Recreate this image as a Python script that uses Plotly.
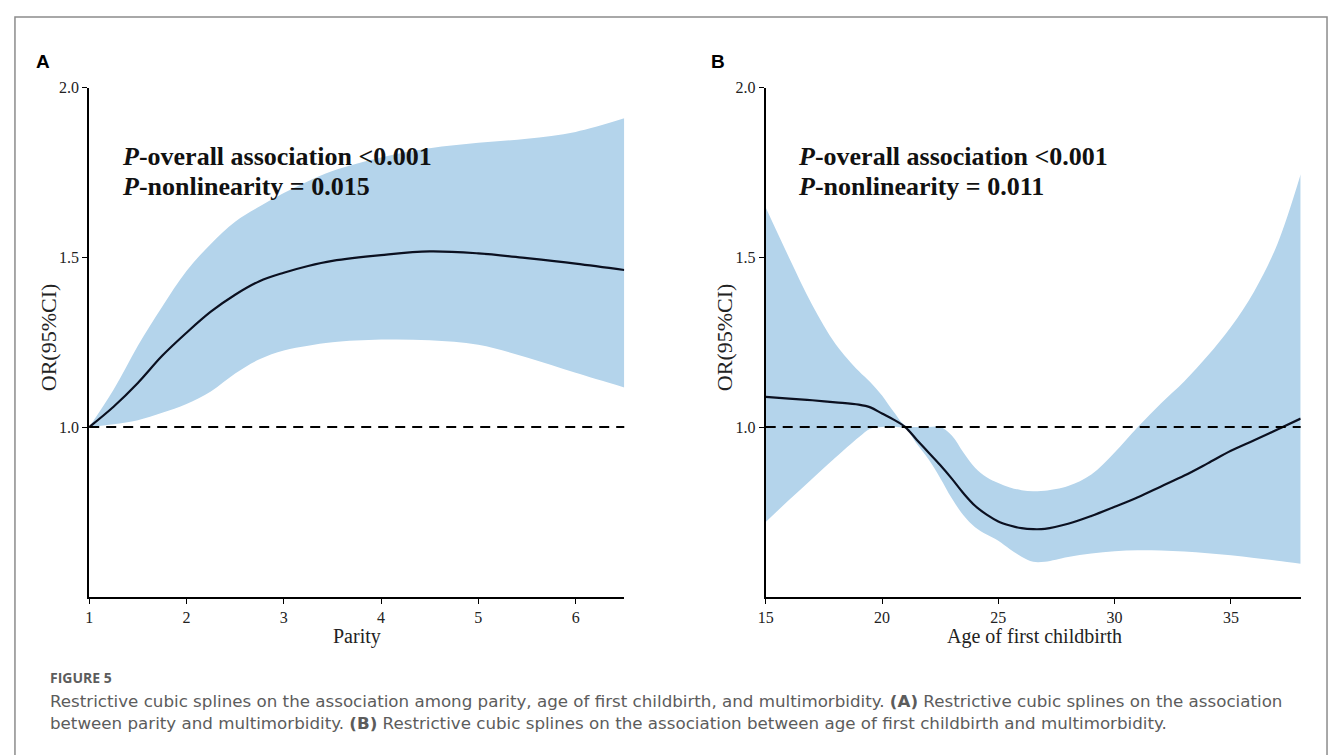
import plotly.graph_objects as go

W, H = 1330, 755

# ---------------- Data ----------------
parity = [1, 1.25, 1.5, 1.75, 2, 2.25, 2.5, 2.75, 3, 3.25, 3.5, 4, 4.5, 5, 5.5, 6, 6.5]
parity_or = [1.0, 1.06, 1.13, 1.21, 1.278, 1.34, 1.39, 1.43, 1.455, 1.475, 1.49, 1.507, 1.518, 1.512, 1.498, 1.482, 1.463]
parity_upper = [1.0, 1.11, 1.24, 1.355, 1.46, 1.54, 1.605, 1.65, 1.69, 1.725, 1.755, 1.795, 1.822, 1.838, 1.85, 1.87, 1.91]
parity_lower = [1.0, 1.008, 1.02, 1.042, 1.068, 1.105, 1.158, 1.2, 1.226, 1.24, 1.25, 1.258, 1.256, 1.243, 1.205, 1.16, 1.117]

age = [15, 16, 17, 18, 19, 19.5, 20, 20.5, 21, 21.5, 22, 22.5, 23, 23.5, 24, 24.5, 25, 25.5, 26, 26.5, 27,
       28, 29, 30, 31, 32, 33, 34, 35, 36, 37, 38]
age_or = [1.089, 1.084, 1.079, 1.073, 1.066, 1.058, 1.04, 1.022, 1.0, 0.962, 0.925, 0.888, 0.848, 0.805, 0.768,
          0.742, 0.722, 0.71, 0.702, 0.699, 0.70, 0.715, 0.738, 0.765, 0.793, 0.825, 0.857, 0.893, 0.93, 0.961,
          0.993, 1.025]
age_upper = [1.647, 1.5, 1.36, 1.245, 1.165, 1.132, 1.093, 1.045, 1.005, 1.0, 1.0, 1.0, 0.975, 0.925, 0.88,
             0.852, 0.835, 0.822, 0.814, 0.811, 0.812, 0.826, 0.86, 0.925, 1.0, 1.07, 1.135, 1.21, 1.295, 1.40,
             1.54, 1.745]
age_lower = [0.72, 0.785, 0.848, 0.91, 0.97, 0.995, 1.0, 1.0, 0.995, 0.95, 0.905, 0.85, 0.79, 0.74, 0.705,
             0.683, 0.665, 0.64, 0.618, 0.603, 0.603, 0.617, 0.627, 0.634, 0.637, 0.636, 0.633, 0.628, 0.622,
             0.614, 0.606, 0.597]

y_ticks = [1.0, 1.5, 2.0]
y_ticktext = ["1.0", "1.5", "2.0"]
parity_ticks = [1, 2, 3, 4, 5, 6]
age_ticks = [15, 20, 25, 30, 35]

# ---------------- Style ----------------
BAND = "#b4d4eb"
LINE = "#0b1020"
SERIF = "Liberation Serif"


def px_x(p):
    return p / W


def px_y(p):
    return 1 - p / H


fig = go.Figure()

for xs, up, lo, mid, xa, ya in [
    (parity, parity_upper, parity_lower, parity_or, "x", "y"),
    (age, age_upper, age_lower, age_or, "x2", "y2"),
]:
    fig.add_trace(go.Scatter(x=xs, y=up, mode="lines", line=dict(width=0, shape="spline", color=BAND),
                             xaxis=xa, yaxis=ya, showlegend=False, hoverinfo="skip"))
    fig.add_trace(go.Scatter(x=xs, y=lo, mode="lines", line=dict(width=0, shape="spline", color=BAND),
                             fill="tonexty", fillcolor=BAND, xaxis=xa, yaxis=ya, showlegend=False,
                             hoverinfo="skip"))
    fig.add_trace(go.Scatter(x=xs, y=mid, mode="lines", line=dict(width=2.2, shape="spline", color=LINE),
                             xaxis=xa, yaxis=ya, showlegend=False))

ydom = [px_y(595), px_y(80.7)]
xdomA = [px_x(81.7), px_x(620)]
xdomB = [px_x(762.3), px_x(1300.5)]

axis_common = dict(showgrid=False, zeroline=False, showline=True, linecolor="black", linewidth=2,
                   ticks="outside", ticklen=5, tickwidth=1.2, tickcolor="black",
                   tickfont=dict(family=SERIF, size=16, color="#222"))

fig.update_layout(
    width=W, height=H, margin=dict(l=0, r=0, t=0, b=0),
    paper_bgcolor="white", plot_bgcolor="white",
    xaxis=dict(domain=xdomA, range=[1, 6.5], tickvals=parity_ticks, anchor="y", **axis_common),
    yaxis=dict(domain=ydom, range=[0.5, 2.0], tickvals=y_ticks, ticktext=y_ticktext, anchor="x",
               **axis_common),
    xaxis2=dict(domain=xdomB, range=[15, 38], tickvals=age_ticks, anchor="y2", **axis_common),
    yaxis2=dict(domain=ydom, range=[0.5, 2.0], tickvals=y_ticks, ticktext=y_ticktext, anchor="x2",
                **axis_common),
)

# reference dashed lines at OR = 1
for xr, yr in [("x domain", "y"), ("x2 domain", "y2")]:
    fig.add_shape(type="line", xref=xr, yref=yr, x0=0, x1=1, y0=1.0, y1=1.0,
                  line=dict(color="black", width=2, dash="10px,7px"), layer="above")

# outer frame
fig.add_shape(type="rect", xref="paper", yref="paper", x0=px_x(7), x1=px_x(1327), y0=-0.05, y1=px_y(9),
              line=dict(color="#8c8c8c", width=1.5), fillcolor="rgba(0,0,0,0)", layer="below")

ann = []
# panel letters
ann.append(dict(text="<b>A</b>", x=px_x(35.5), y=px_y(54), font=dict(family="Liberation Sans", size=19,
                                                                     color="black")))
ann.append(dict(text="<b>B</b>", x=px_x(714.5), y=px_y(54), font=dict(family="Liberation Sans", size=19,
                                                                      color="black")))
# p-value texts
for x0, p2 in [(113, "0.015"), (793, "0.011")]:
    ann.append(dict(text="<b><i>P</i>-overall association &lt;0.001</b>", x=px_x(x0), y=px_y(150),
                    xanchor="left", font=dict(family=SERIF, size=26, color="#111")))
    ann.append(dict(text=f"<b><i>P</i>-nonlinearity = {p2}</b>", x=px_x(x0), y=px_y(180),
                    xanchor="left", font=dict(family=SERIF, size=26, color="#111")))
# axis titles
ann.append(dict(text="Parity", x=px_x(351), y=px_y(622), yanchor="top",
                font=dict(family=SERIF, size=20, color="#222")))
ann.append(dict(text="Age of first childbirth", x=px_x(1033), y=px_y(622), yanchor="top",
                font=dict(family=SERIF, size=20, color="#222")))
for xc in [41, 721]:
    ann.append(dict(text="OR(95%CI)", x=px_x(xc), y=px_y(333), textangle=-90,
                    font=dict(family=SERIF, size=22, color="#222")))
# caption
ann.append(dict(text="<b>FIGURE 5</b>", x=px_x(40), y=px_y(677), xanchor="left",
                font=dict(family="Open Sans", size=14, color="#5c5c5c")))
CAP = "DejaVu Sans"
ann.append(dict(text="Restrictive cubic splines on the association among parity, age of first childbirth, and "
                     "multimorbidity. <b>(A)</b> Restrictive cubic splines on the association",
                x=px_x(40), y=px_y(700), xanchor="left", font=dict(family=CAP, size=16.7, color="#5c5c5c")))
ann.append(dict(text="between parity and multimorbidity. <b>(B)</b> Restrictive cubic splines on the association "
                     "between age of first childbirth and multimorbidity.",
                x=px_x(40), y=px_y(723), xanchor="left", font=dict(family=CAP, size=16.7, color="#5c5c5c")))

for a in ann:
    a.setdefault("xref", "paper")
    a.setdefault("yref", "paper")
    a.setdefault("showarrow", False)
    a.setdefault("yanchor", "middle")
    a.setdefault("xanchor", "center")
    fig.add_annotation(**a)

fig.write_html("out.html", post_script="document.body.style.margin='0';document.body.style.overflow='hidden';")
